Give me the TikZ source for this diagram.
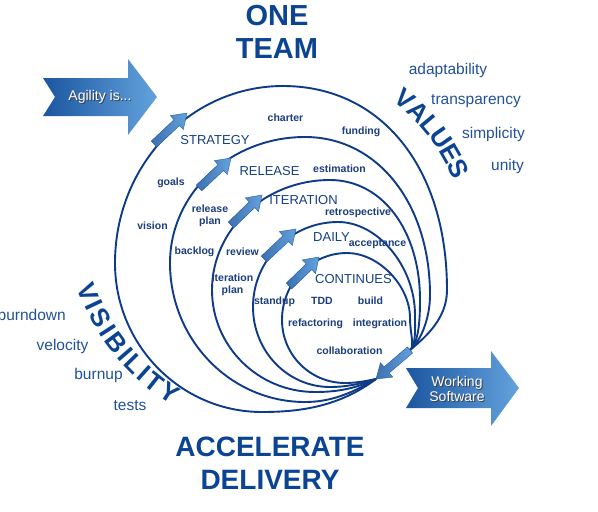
\documentclass[tikz,border=0pt]{standalone}
\usepackage{fontspec}
\setmainfont{Liberation Sans}
\usetikzlibrary{calc}
\definecolor{linecol}{HTML}{0D3B87}
\definecolor{titlecol}{HTML}{0B4493}
\definecolor{labelcol}{HTML}{1B3E7E}
\definecolor{wordcol}{HTML}{22519C}
\definecolor{stagecol}{HTML}{163F85}
\definecolor{arrdark}{HTML}{1B56A0}
\definecolor{arrlight}{HTML}{64A2DD}
\definecolor{arredge}{HTML}{1F5AA0}
\tikzset{
  curve/.style={draw=linecol, line width=1.9pt, line join=round},
  arrowfill/.style={left color=arrdark!85!white, right color=arrlight, draw=arredge, line width=0.4pt},
  bigarrow/.style={left color=arrdark, right color=arrlight, draw=none},
  titletext/.style={text=titlecol, inner sep=0pt, font=\bfseries\fontsize{29}{29}\selectfont},
  biglet/.style={text=titlecol, inner sep=0pt, font=\bfseries\fontsize{26}{26}\selectfont},
  word/.style={text=wordcol, inner sep=0pt, font=\fontsize{15.5}{15.5}\selectfont},
  stage/.style={text=stagecol, inner sep=0pt, font=\fontsize{13}{13}\selectfont},
  small/.style={text=labelcol, inner sep=0pt, align=center, font=\bfseries\fontsize{10.5}{11.5}\selectfont},
  arrowtext/.style={text=white, inner sep=0pt, align=center, font=\fontsize{14}{15}\selectfont},
  arrowshadow/.style={text=black!75, inner sep=0pt, align=center, font=\fontsize{14}{15}\selectfont},
}
\newcommand{\fatarrow}[3]{%
  \path ($(#3)!14pt!(#2)$) coordinate (#1h);
  \shade[arrowfill] ($(#2)!4pt!90:(#3)$) -- ($(#1h)!4pt!90:(#3)$) -- ($(#1h)!9.5pt!90:(#3)$) -- (#3)
    -- ($(#1h)!9.5pt!-90:(#3)$) -- ($(#1h)!4pt!-90:(#3)$) -- ($(#2)!4pt!-90:(#3)$) -- cycle;
}
\begin{document}
\begin{tikzpicture}[x=1pt, y=-1pt]
\useasboundingbox (0,0) rectangle (598,512);
\clip (0,0) rectangle (598,512);
\fill[white] (0,0) rectangle (598,512);

\coordinate (T) at (376,379);
\coordinate (A) at (410,350);

% curves (clockwise from the tip T round to the tail A)
\draw[curve] (T) .. controls (340,406) and (302,412) .. (262,412)
  .. controls (180.9,412) and (115,345.2) .. (115,263)
  .. controls (115,165.3) and (190.3,86) .. (283,86)
  .. controls (381.4,86) and (447,167.6) .. (447,290)
  .. controls (447,318) and (426.5,336.5) .. (A);
\draw[curve] (T) .. controls (350.5,394) and (330,402) .. (305,402)
  .. controls (230.5,402) and (170,339.7) .. (170,263)
  .. controls (170,193.4) and (230.5,137) .. (305,137)
  .. controls (377.5,137) and (430,203.4) .. (430,295)
  .. controls (430,318) and (421,341) .. (A);
\draw[curve] (T) .. controls (353.5,389.5) and (335,392) .. (315,392)
  .. controls (258.1,392) and (212,346.3) .. (212,290)
  .. controls (212,229.3) and (264.9,180) .. (330,180)
  .. controls (382.2,180) and (420,230.4) .. (420,300)
  .. controls (420,318) and (419,343) .. (A);
\draw[curve] (T) .. controls (359,384.4) and (345,387) .. (330,387)
  .. controls (287.5,387) and (253,351.2) .. (253,307)
  .. controls (253,260.1) and (291.1,222) .. (338,222)
  .. controls (378,222) and (415,266.6) .. (415,315)
  .. controls (415,330) and (416,345.7) .. (A);
\draw[curve] (T) .. controls (364.4,381.4) and (355,383) .. (345,383)
  .. controls (310.2,383) and (282,354.8) .. (282,320)
  .. controls (282,283) and (311.1,253) .. (347,253)
  .. controls (378.5,253) and (410,285.5) .. (410,318)
  .. controls (410,333) and (415,347) .. (A);

% small arrows
\coordinate (a1t) at (154,144); \coordinate (a1p) at (187,113);
\coordinate (a2t) at (199,188); \coordinate (a2p) at (231,158);
\coordinate (a3t) at (231,225); \coordinate (a3p) at (262,195);
\coordinate (a4t) at (264,259); \coordinate (a4p) at (296,229);
\coordinate (a5t) at (289,286); \coordinate (a5p) at (319,257);
\fatarrow{a1}{a1t}{a1p}
\fatarrow{a2}{a2t}{a2p}
\fatarrow{a3}{a3t}{a3p}
\fatarrow{a4}{a4t}{a4p}
\fatarrow{a5}{a5t}{a5p}
\fatarrow{a6}{A}{T}

% big arrows
\shade[bigarrow] (43,78) -- (128,78) -- (128,59) -- (157,97) -- (128,135) -- (128,116) -- (43,116) -- (55,97) -- cycle;
\node[arrowshadow] (agilitys) at (101,98) {Agility is...};
\node[arrowtext] (agility) at (100,97) {Agility is...};
\shade[bigarrow] (406,368) -- (491,368) -- (491,351) -- (519,388) -- (491,426) -- (491,408) -- (406,408) -- (418,388) -- cycle;
\node[arrowshadow] (works) at (458,390) {Working\\Software};
\node[arrowtext] (work) at (457,389) {Working\\Software};

% titles
\node[titletext] (one) at (277,16) {ONE};
\node[titletext] (team) at (277,49) {TEAM};
\node[titletext, font=\bfseries\fontsize{28}{28}\selectfont] (accel) at (270,447) {ACCELERATE};
\node[titletext, font=\bfseries\fontsize{28}{28}\selectfont] (deliv) at (270,480) {DELIVERY};

% VALUES along arc
\foreach \ch/\ang [count=\i] in {V/50.5, A/45.1, L/40.06, U/34.94, E/29.66, S/24.57}
  \node[biglet, rotate=\ang-90] (val\i) at ({281+195*cos(\ang)}, {250-195*sin(\ang)}) {\ch};
% VISIBILITY along arc
\foreach \ch/\ang [count=\i] in {V/201.3, I/205.2, S/209.0, I/212.86, B/216.9, I/220.95, L/224.55, I/228.15, T/231.75, Y/236.9}
  \node[biglet, rotate=\ang+90] (vis\i) at ({286.4+213*cos(\ang)}, {214.7-213*sin(\ang)}) {\ch};

% value words
\node[word] (w1) at (448,70) {adaptability};
\node[word] (w2) at (476,101) {transparency};
\node[word] (w3) at (493.5,134) {simplicity};
\node[word] (w4) at (507.5,166) {unity};
\node[word, anchor=east] (w5) at (66,315) {burndown};
\node[word] (w6) at (62.5,346) {velocity};
\node[word] (w7) at (98.5,375) {burnup};
\node[word] (w8) at (130,406) {tests};

% stages
\node[stage] (s1) at (215,140) {STRATEGY};
\node[stage] (s2) at (269.5,171) {RELEASE};
\node[stage] (s3) at (303.5,200) {ITERATION};
\node[stage] (s4) at (331.5,237) {DAILY};
\node[stage] (s5) at (353.5,279) {CONTINUES};

% small labels
\node[small] (l1) at (285.5,118) {charter};
\node[small] (l2) at (361,132) {funding};
\node[small] (l3) at (171,183) {goals};
\node[small] (l4) at (339.5,169) {estimation};
\node[small] (l5) at (152.5,226) {vision};
\node[small] (l6) at (210,216) {release\\plan};
\node[small] (l7) at (358,213) {retrospective};
\node[small] (l8) at (194.5,252) {backlog};
\node[small] (l9) at (242.5,252) {review};
\node[small] (l10) at (377.5,244) {acceptance};
\node[small] (l11) at (232.5,285) {iteration\\plan};
\node[small] (l12) at (274.5,302) {standup};
\node[small] (l13) at (322,301) {TDD};
\node[small] (l14) at (370.5,301) {build};
\node[small] (l15) at (315.5,324) {refactoring};
\node[small] (l16) at (380,324) {integration};
\node[small] (l17) at (349.5,351) {collaboration};
\end{tikzpicture}
\end{document}
